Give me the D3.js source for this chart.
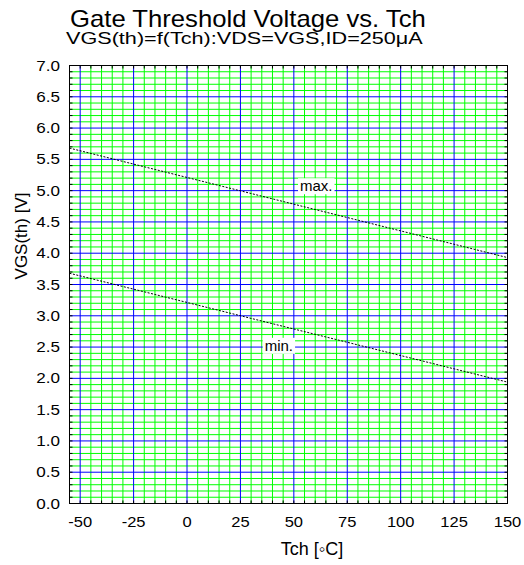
<!DOCTYPE html>
<html><head><meta charset="utf-8">
<script src="https://cdn.jsdelivr.net/npm/d3@7"></script>
<style>
body{margin:0;background:#fff}
svg{display:block}
text{font-family:Arial,"Liberation Sans",Helvetica,sans-serif;fill:#000}
</style>
</head><body>
<svg id="c" width="524" height="565"></svg>
<script>
// ---- data ----
const titleText = "Gate Threshold Voltage vs. Tch";
const subtitleText = "VGS(th)=f(Tch):VDS=VGS,ID=250μA";
const xTitleText = "Tch [◦C]";
const yTitleText = "VGS(th) [V]";
const tch = [-55, 150];
const vgsMax = [5.68, 3.93];
const vgsMin = [3.68, 1.94];
const xTicks = [-50, -25, 0, 25, 50, 75, 100, 125, 150];
const yTicks = [0, 0.5, 1, 1.5, 2, 2.5, 3, 3.5, 4, 4.5, 5, 5.5, 6, 6.5, 7];
const curveLabels = ["max.", "min."];
const labelT = [60.5, 43];
const labelV = [5.07, 2.52];

// ---- layout ----
const L = 69.5, R = 507.5, T = 65.5, B = 503.5;
const x = d3.scaleLinear().domain([-55, 150]).range([L, R]);
const y = d3.scaleLinear().domain([0, 7]).range([B, T]);
const svg = d3.select("#c");

function place(sel, px, py, sx) {
  sel.attr("transform", (d, i) => `translate(${px(d, i)},${py(d, i)}) scale(${sx},1)`);
}

// minor grid (green)
const g = svg.append("g");
const minorX = d3.range(-50, 150, 5).filter(v => v % 25 !== 0);
const minorY = d3.range(1, 70).map(v => v / 10).filter(v => Math.round(v * 10) % 5 !== 0);
g.selectAll(".mx").data(minorX).join("line")
  .attr("x1", d => x(d)).attr("x2", d => x(d)).attr("y1", T).attr("y2", B)
  .attr("stroke", "#00ff00").attr("stroke-width", 1);
g.selectAll(".my").data(minorY).join("line")
  .attr("y1", d => y(d)).attr("y2", d => y(d)).attr("x1", L).attr("x2", R)
  .attr("stroke", "#00ff00").attr("stroke-width", 1);
// major grid (blue)
g.selectAll(".Mx").data(xTicks.filter(d => d > -55 && d < 150)).join("line")
  .attr("x1", d => x(d)).attr("x2", d => x(d)).attr("y1", T).attr("y2", B)
  .attr("stroke", "#0000ff").attr("stroke-width", 1);
g.selectAll(".My").data(yTicks.filter(d => d > 0 && d < 7)).join("line")
  .attr("y1", d => y(d)).attr("y2", d => y(d)).attr("x1", L).attr("x2", R)
  .attr("stroke", "#0000ff").attr("stroke-width", 1);

// frame
svg.append("rect").attr("x", L).attr("y", T).attr("width", R - L).attr("height", B - T)
  .attr("fill", "none").attr("stroke", "#000").attr("stroke-width", 1);

// small inside ticks
const tickY = d3.range(1, 70).map(v => v / 10);
const tickX = d3.range(-50, 150, 5);
const tk = svg.append("g").attr("stroke", "#000").attr("stroke-width", 1);
tk.selectAll(".tl").data(tickY).join("line").attr("x1", L).attr("x2", L + 3).attr("y1", d => y(d)).attr("y2", d => y(d));
tk.selectAll(".tr").data(tickY).join("line").attr("x1", R).attr("x2", R - 3).attr("y1", d => y(d)).attr("y2", d => y(d));
tk.selectAll(".tb").data(tickX).join("line").attr("y1", B).attr("y2", B - 3).attr("x1", d => x(d)).attr("x2", d => x(d));
tk.selectAll(".tt").data(tickX).join("line").attr("y1", T).attr("y2", T + 3).attr("x1", d => x(d)).attr("x2", d => x(d));

// curves
const line = d3.line().x(d => x(d[0])).y(d => y(d[1]));
[vgsMax, vgsMin].forEach(vals => {
  svg.append("path").datum(tch.map((t, i) => [t, vals[i]]))
    .attr("d", line).attr("fill", "none").attr("stroke", "#000")
    .attr("stroke-width", 1).attr("stroke-dasharray", "2,1.5");
});

// curve labels with white background
curveLabels.forEach((lab, i) => {
  const gg = svg.append("g");
  const t = gg.append("text").text(lab).attr("font-size", 15)
    .attr("text-anchor", "middle").attr("x", x(labelT[i])).attr("y", y(labelV[i]) + 5);
  const bb = t.node().getBBox();
  gg.insert("rect", "text").attr("x", bb.x - 2).attr("y", bb.y + 1).attr("width", bb.width + 4).attr("height", bb.height - 1)
    .attr("fill", "#fff");
});

// tick labels
svg.append("g").selectAll("text").data(yTicks).join("text")
  .text(d => d.toFixed(1)).attr("font-size", 14).attr("text-anchor", "end")
  .call(place, d => 60, d => y(d) + 5, 1.22);
svg.append("g").selectAll("text").data(xTicks).join("text")
  .text(d => d).attr("font-size", 14).attr("text-anchor", "middle")
  .call(place, d => x(d), d => 527, 1.18);

// titles
const tt = svg.append("text").text(titleText).attr("font-size", 24);
const ttw = tt.node().getComputedTextLength();
tt.attr("transform", `translate(70,27) scale(${356 / ttw},1)`);
const st = svg.append("text").text(subtitleText).attr("font-size", 16);
const stw = st.node().getComputedTextLength();
st.attr("transform", `translate(66,44) scale(${357 / stw},1)`);
svg.append("text").text(xTitleText).attr("font-size", 18).attr("text-anchor", "middle")
  .attr("x", 312).attr("y", 555);
svg.append("text").text(yTitleText).attr("font-size", 17).attr("text-anchor", "middle")
  .attr("transform", "translate(27,236) rotate(-90)");
</script>
</body></html>
